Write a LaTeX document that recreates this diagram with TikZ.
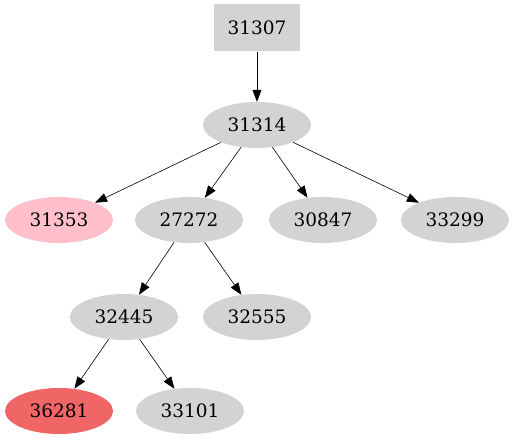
\documentclass[tikz,border=0pt]{standalone}
\usepackage{fontspec}
\setmainfont{DejaVu Serif}
\usetikzlibrary{arrows.meta, shapes.geometric}
\definecolor{nodegray}{HTML}{D3D3D3}
\definecolor{nodepink}{HTML}{FFC0CB}
\definecolor{nodered}{HTML}{F06666}

\begin{document}
\begin{tikzpicture}[
                x=1pt, y=-1pt,
                blob/.style={ellipse, fill=nodegray, inner sep=0pt, minimum width=108pt, minimum height=46pt, font=\fontsize{18.5}{20}\selectfont},
                rootbox/.style={rectangle, fill=nodegray, inner sep=0pt, minimum width=86pt, minimum height=47pt, font=\fontsize{18.5}{20}\selectfont},
                arr/.style={-{Triangle[length=12pt, width=9pt]}, semithick}
            ]
            \useasboundingbox (0,0) rectangle (514,443);
            \node[rootbox] (n31307) at (257,28) {31307};
            \node[blob] (n31314) at (257,125) {31314};
            \node[blob, fill=nodepink] (n31353) at (59,220) {31353};
            \node[blob] (n27272) at (189,220) {27272};
            \node[blob] (n30847) at (323,220) {30847};
            \node[blob] (n33299) at (455,220) {33299};
            \node[blob] (n32445) at (124,317) {32445};
            \node[blob] (n32555) at (257,317) {32555};
            \node[blob, fill=nodered] (n36281) at (59,411) {36281};
            \node[blob] (n33101) at (190,411) {33101};
            \draw[arr] (n31307) -- (n31314);
            \draw[arr] (n31314) -- (n31353);
            \draw[arr] (n31314) -- (n27272);
            \draw[arr] (n31314) -- (n30847);
            \draw[arr] (n31314) -- (n33299);
            \draw[arr] (n27272) -- (n32445);
            \draw[arr] (n27272) -- (n32555);
            \draw[arr] (n32445) -- (n36281);
            \draw[arr] (n32445) -- (n33101);
        \end{tikzpicture}
\end{document}
